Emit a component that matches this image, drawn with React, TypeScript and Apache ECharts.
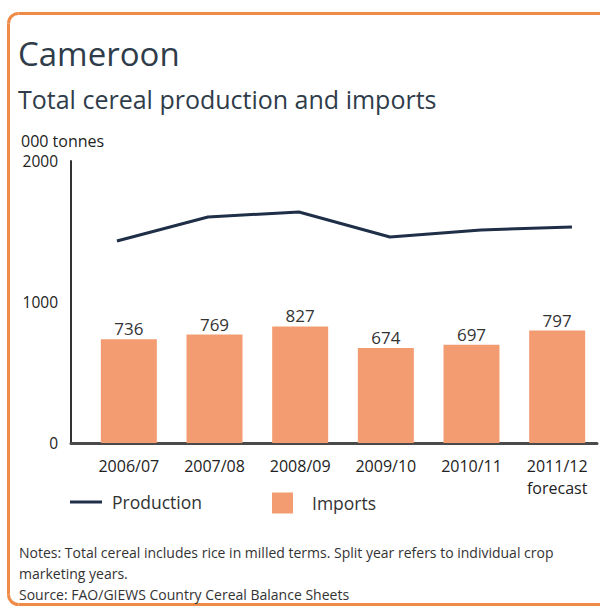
import React, { useEffect, useRef } from "react";
import * as echarts from "echarts";

const categories = ["2006/07", "2007/08", "2008/09", "2009/10", "2010/11", "2011/12\nforecast"];
const importsValues = [736, 769, 827, 674, 697, 797];
const productionValues = [1433, 1603, 1638, 1461, 1511, 1532];
const yTicks = [0, 1000, 2000];

const FONT = "'Open Sans', sans-serif";
const FRAME = "#ef8a47";

export default function App() {
  const ref = useRef<HTMLDivElement>(null);
  useEffect(() => {
    if (!ref.current) return;
    const chart = echarts.init(ref.current, undefined, { renderer: "svg" });
    const frameStyle = { stroke: FRAME, lineWidth: 3, fill: "none" };
    chart.setOption({
      animation: false,
      backgroundColor: "#ffffff",
      textStyle: { fontFamily: FONT },
      graphic: [
        { type: "line", z: -5, shape: { x1: 18.5, y1: 13.5, x2: 700, y2: 13.5 }, style: frameStyle },
        { type: "line", z: -5, shape: { x1: 8.5, y1: 23.5, x2: 8.5, y2: 594.5 }, style: frameStyle },
        { type: "line", z: -5, shape: { x1: 18.5, y1: 604.5, x2: 700, y2: 604.5 }, style: frameStyle },
        {
          type: "arc",
          z: -5,
          shape: { cx: 18.5, cy: 23.5, r: 10, startAngle: Math.PI, endAngle: Math.PI * 1.5, clockwise: true },
          style: frameStyle,
        },
        {
          type: "arc",
          z: -5,
          shape: { cx: 18.5, cy: 594.5, r: 10, startAngle: Math.PI / 2, endAngle: Math.PI, clockwise: true },
          style: frameStyle,
        },
        {
          type: "text",
          x: 18,
          y: 53,
          style: { text: "Cameroon", font: `33px ${FONT}`, fill: "#2f3c4a", verticalAlign: "middle" },
        },
        {
          type: "text",
          x: 18,
          y: 99,
          style: { text: "Total cereal production and imports", font: `25px ${FONT}`, fill: "#2f3c4a", verticalAlign: "middle" },
        },
        {
          type: "text",
          x: 21,
          y: 141,
          style: { text: "000 tonnes", font: `500 16px ${FONT}`, fill: "#222", verticalAlign: "middle" },
        },
        {
          type: "text",
          x: 19,
          y: 552,
          style: {
            text: "Notes: Total cereal includes rice in milled terms. Split year refers to individual crop",
            font: `14px ${FONT}`,
            fill: "#333",
            verticalAlign: "middle",
          },
        },
        {
          type: "text",
          x: 19,
          y: 573,
          style: { text: "marketing years.", font: `14px ${FONT}`, fill: "#333", verticalAlign: "middle" },
        },
        {
          type: "text",
          x: 19,
          y: 594,
          style: { text: "Source: FAO/GIEWS Country Cereal Balance Sheets", font: `14px ${FONT}`, fill: "#333", verticalAlign: "middle" },
        },
      ],
      legend: [
        {
          left: 70,
          top: 493,
          padding: 0,
          data: [{ name: "Production", icon: "rect" }],
          itemWidth: 32,
          itemHeight: 3,
          textStyle: { fontSize: 17.5, color: "#333", fontFamily: FONT, padding: [0, 0, 0, 5] },
        },
        {
          left: 272,
          top: 492.5,
          padding: 0,
          data: [{ name: "Imports", icon: "rect" }],
          itemWidth: 21,
          itemHeight: 21,
          textStyle: { fontSize: 17.5, color: "#333", fontFamily: FONT, padding: [0, 0, 0, 14] },
        },
      ],
      grid: [
        { left: 86, width: 516, top: 161, height: 282 },
        { left: 71, right: 3, top: 161, height: 282 },
      ],
      xAxis: [
        {
          type: "category",
          gridIndex: 0,
          data: categories,
          axisLine: { show: false },
          axisTick: { show: false },
          axisLabel: { margin: 12, fontSize: 16, color: "#222", fontFamily: FONT, lineHeight: 22 },
        },
        {
          type: "value",
          gridIndex: 1,
          min: -0.505,
          max: 5.275,
          axisLine: { show: true, onZero: false, lineStyle: { color: "#4a4a4a", width: 3 } },
          axisTick: { show: false },
          axisLabel: { show: false },
          splitLine: { show: false },
        },
      ],
      yAxis: [
        {
          type: "value",
          gridIndex: 0,
          min: yTicks[0],
          max: yTicks[yTicks.length - 1],
          interval: 1000,
          offset: 15,
          axisLine: { show: true, lineStyle: { color: "#333", width: 2 } },
          axisTick: { show: false },
          splitLine: { show: false },
          axisLabel: { margin: 13, fontSize: 15.5, color: "#222", fontFamily: FONT, formatter: (v: number) => String(v) },
        },
        {
          type: "value",
          gridIndex: 1,
          min: yTicks[0],
          max: yTicks[yTicks.length - 1],
          show: false,
        },
      ],
      series: [
        {
          name: "Imports",
          type: "bar",
          xAxisIndex: 0,
          yAxisIndex: 0,
          data: importsValues,
          barWidth: 56,
          itemStyle: { color: "#f39c72" },
          label: { show: true, position: "top", distance: 2, fontSize: 17, color: "#333", fontFamily: FONT },
        },
        {
          name: "Production",
          type: "line",
          xAxisIndex: 1,
          yAxisIndex: 1,
          data: productionValues.map((v, i) => [i, v]),
          showSymbol: false,
          symbol: "none",
          lineStyle: { color: "#1f2f48", width: 3 },
          itemStyle: { color: "#1f2f48" },
        },
      ],
    });
    return () => chart.dispose();
  }, []);
  return <div ref={ref} style={{ position: "absolute", left: 0, top: 0, width: 600, height: 610 }} />;
}
